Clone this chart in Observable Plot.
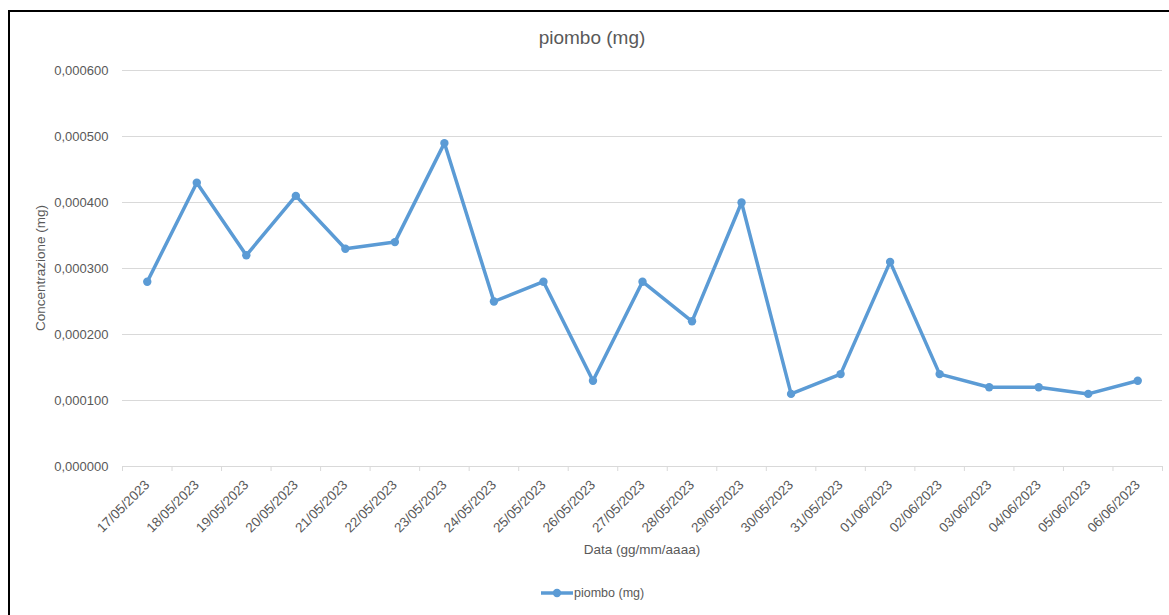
<!DOCTYPE html>
<html><head><meta charset="utf-8">
<script src="https://cdn.jsdelivr.net/npm/d3@7"></script>
<script src="https://cdn.jsdelivr.net/npm/@observablehq/plot@0.6"></script>
<style>
body{margin:0;background:#fff;}
#wrap{position:relative;width:1169px;height:615px;overflow:hidden;font-family:"Liberation Sans",sans-serif;color:#595959;}
#frame{position:absolute;left:8px;top:10px;width:1300px;height:800px;border-left:2px solid #000;border-top:2px solid #000;}
#title{position:absolute;top:27px;left:0;width:1184px;text-align:center;font-size:19px;}
#chart{position:absolute;left:0;top:0;}
#xlabel{position:absolute;top:542px;left:0;width:1284px;text-align:center;font-size:13.5px;}
#ylabel{position:absolute;left:40px;top:268px;transform:translate(-50%,-50%) rotate(-90deg);white-space:nowrap;font-size:13.5px;}
#legend{position:absolute;top:585px;left:540px;font-size:12.5px;display:flex;align-items:center;}
</style></head>
<body>
<div id="wrap">
  <div id="frame"></div>
  <div id="chart"></div>
  <div id="title">piombo (mg)</div>
  <div id="xlabel">Data (gg/mm/aaaa)</div>
  <div id="ylabel">Concentrazione (mg)</div>
  <div id="legend"><svg width="34" height="16"><line x1="1" y1="8" x2="33" y2="8" stroke="#5b9bd5" stroke-width="3.5"/><circle cx="17" cy="8" r="4.2" fill="#5b9bd5"/></svg><span>piombo (mg)</span></div>
</div>
<script>
const dates = ["17/05/2023","18/05/2023","19/05/2023","20/05/2023","21/05/2023","22/05/2023","23/05/2023","24/05/2023","25/05/2023","26/05/2023","27/05/2023","28/05/2023","29/05/2023","30/05/2023","31/05/2023","01/06/2023","02/06/2023","03/06/2023","04/06/2023","05/06/2023","06/06/2023"];
const values = [0.00028,0.00043,0.00032,0.00041,0.00033,0.00034,0.00049,0.00025,0.00028,0.00013,0.00028,0.00022,0.00040,0.00011,0.00014,0.00031,0.00014,0.00012,0.00012,0.00011,0.00013];
const yTicks = [0,0.0001,0.0002,0.0003,0.0004,0.0005,0.0006];
const seriesName = "piombo (mg)";

const data = dates.map((d,i)=>({date:d, value:values[i]}));
const fmt = v => v.toFixed(6).replace(".", ",");
const W = 1169, mL = 122, mR = 7;
const bw = (W - mL - mR) / dates.length;
const blank = () => "";

const chart = Plot.plot({
  width: W, height: 560,
  marginTop: 70, marginBottom: 94, marginLeft: mL, marginRight: mR,
  style: {fontFamily: "Liberation Sans, sans-serif", fontSize: "13px", color: "#595959", background: "transparent", overflow: "visible"},
  x: {type: "band", domain: dates, padding: 0, round: false, label: null},
  y: {domain: [0, 0.0006], label: null},
  marks: [
    Plot.gridY(yTicks, {stroke: "#d9d9d9", strokeOpacity: 1, strokeWidth: 1}),
    Plot.axisY(yTicks, {tickSize: 0, tickPadding: 14, tickFormat: fmt, fill: "#595959", label: null}),
    Plot.axisX({tickSize: 0, tickRotate: -45, tickPadding: 16, fontSize: 13.5, fill: "#595959", label: null}),
    Plot.axisX(dates, {tickSize: 5, tickFormat: blank, dx: -bw/2, stroke: "#d9d9d9", strokeOpacity: 1, label: null}),
    Plot.axisX([dates[dates.length-1]], {tickSize: 5, tickFormat: blank, dx: bw/2, stroke: "#d9d9d9", strokeOpacity: 1, label: null}),
    Plot.line(data, {x: "date", y: "value", stroke: "#5b9bd5", strokeWidth: 3.5, strokeLinejoin: "round"}),
    Plot.dot(data, {x: "date", y: "value", r: 4.2, fill: "#5b9bd5", stroke: "none"})
  ]
});
document.getElementById("chart").appendChild(chart);
</script>
</body></html>
